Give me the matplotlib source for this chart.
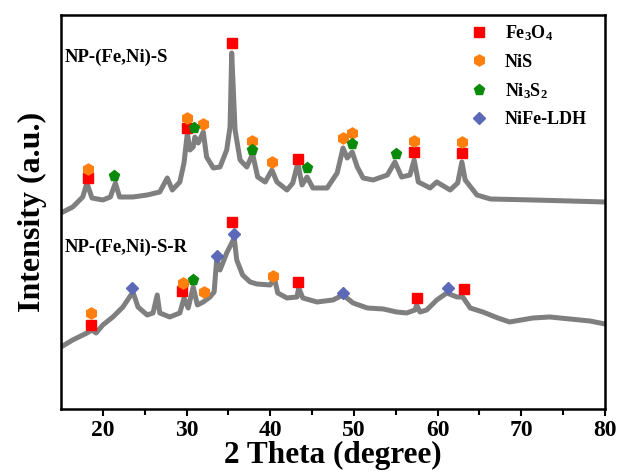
import matplotlib
matplotlib.use("Agg")
import matplotlib.pyplot as plt

plt.rcParams['font.family'] = 'Liberation Serif'
plt.rcParams['font.weight'] = 'bold'
plt.rcParams['mathtext.fontset'] = 'custom'
plt.rcParams['mathtext.rm'] = 'Liberation Serif:bold'
plt.rcParams['mathtext.it'] = 'Liberation Serif:bold'
plt.rcParams['mathtext.bf'] = 'Liberation Serif:bold'

# NP-(Fe,Ni)-S pattern (2 theta, intensity a.u.)
theta_s = [15.0, 16.4, 17.6, 18.1, 18.7, 20.0, 20.9, 21.5, 22.0, 23.6, 25.3, 26.8, 27.7, 28.3,
           29.2, 29.7, 30.1, 30.4, 30.8, 31.0, 31.4, 32.0, 32.4, 33.2, 34.0, 34.8, 35.2, 35.4,
           35.8, 36.4, 37.2, 37.9, 38.5, 39.4, 40.2, 40.8, 42.0, 42.7, 43.3, 43.8, 44.4, 45.1,
           46.8, 48.0, 48.7, 49.2, 49.8, 50.4, 51.1, 52.3, 54.0, 54.9, 55.7, 56.7, 57.2, 57.7,
           59.1, 59.9, 61.5, 62.4, 62.9, 63.3, 64.7, 66.3, 71.4, 75.8, 80.0]
int_s = [196, 202, 212, 226, 211, 209, 212, 226, 212, 212, 214, 217, 231, 219,
         227, 246, 276, 259, 262, 272, 266, 277, 252, 241, 242, 259, 282, 356,
         279, 249, 242, 255, 232, 227, 239, 227, 219, 226, 246, 224, 232, 221,
         221, 236, 261, 251, 257, 242, 231, 229, 234, 247, 232, 234, 249, 227,
         221, 227, 219, 226, 247, 229, 214, 210, 209, 208, 207]

# NP-(Fe,Ni)-S-R pattern
theta_r = [15.0, 16.4, 18.1, 18.7, 19.2, 20.0, 21.2, 22.4, 23.6, 24.2, 25.3, 26.0, 26.5, 26.8,
           28.0, 29.2, 29.7, 30.2, 30.8, 31.3, 32.0, 32.8, 33.3, 33.6, 34.0, 34.8, 35.4, 35.7,
           36.0, 36.7, 37.6, 38.4, 40.0, 40.5, 40.9, 42.0, 43.2, 43.4, 43.9, 45.6, 47.5, 48.7,
           49.9, 51.6, 53.5, 55.1, 56.3, 57.3, 57.5, 57.9, 58.7, 59.9, 61.1, 62.3, 63.0, 63.9,
           65.4, 67.2, 68.6, 71.4, 73.4, 75.8, 78.2, 80.0]
int_r = [62, 69, 76, 79, 76, 84, 92, 102, 117, 102, 94, 96, 114, 96,
         92, 96, 111, 101, 122, 104, 107, 112, 117, 149, 139, 156, 166, 171,
         149, 134, 127, 125, 124, 131, 116, 111, 112, 121, 111, 107, 109, 114,
         106, 101, 100, 97, 96, 99, 104, 97, 99, 109, 116, 112, 112, 101,
         97, 91, 87, 91, 92, 90, 88, 85]

# phase markers, top pattern
fe3o4_s_x = [18.2, 30.1, 35.4, 43.3, 57.2, 62.9]
fe3o4_s_y = [231, 281, 366, 250, 257, 256]
nis_s_x = [18.2, 30.1, 32.0, 37.8, 40.2, 48.7, 49.8, 57.2, 62.9]
nis_s_y = [240, 291, 285, 268, 247, 271, 276, 268, 267]
ni3s2_s_x = [21.3, 30.9, 37.8, 44.4, 49.8, 55.0]
ni3s2_s_y = [233, 281, 259, 241, 265, 255]

# phase markers, bottom pattern
fe3o4_r_x = [18.6, 29.5, 35.4, 43.3, 57.5, 63.2]
fe3o4_r_y = [84, 118, 187, 127, 111, 120]
nis_r_x = [18.6, 29.6, 32.1, 40.3]
nis_r_y = [96, 126, 117, 133]
ni3s2_r_x = [30.8]
ni3s2_r_y = [129]
ldh_r_x = [23.5, 33.6, 35.7, 48.7, 61.2]
ldh_r_y = [121, 153, 175, 116, 121]

c_fe = '#ff0000'
c_nis = '#ff7f0e'
c_ni3 = '#0a8a0a'
c_ldh = '#5b69b8'
ms = 7

fig = plt.figure(figsize=(6.21, 4.76), dpi=100)
ax = fig.add_axes([0.0982, 0.1408, 0.876, 0.8277])

ax.plot(theta_s, int_s, color='#7f7f7f', lw=3.6, solid_joinstyle='round')
ax.plot(theta_r, int_r, color='#7f7f7f', lw=3.6, solid_joinstyle='round')

ax.plot(fe3o4_s_x + fe3o4_r_x, fe3o4_s_y + fe3o4_r_y, 's', color=c_fe, ms=ms, ls='none', label='Fe$_3$O$_4$')
ax.plot(nis_s_x + nis_r_x, nis_s_y + nis_r_y, 'h', color=c_nis, ms=ms + 1, ls='none', label='NiS')
ax.plot(ni3s2_s_x + ni3s2_r_x, ni3s2_s_y + ni3s2_r_y, 'p', color=c_ni3, ms=ms + 1, ls='none', label='Ni$_3$S$_2$')
ax.plot(ldh_r_x, ldh_r_y, 'D', color=c_ldh, ms=ms - 1, ls='none', label='NiFe-LDH')

ax.text(0.007, 0.893, 'NP-(Fe,Ni)-S', transform=ax.transAxes, fontsize=13.5,
        fontweight='bold', va='center')
ax.text(0.007, 0.409, 'NP-(Fe,Ni)-S-R', transform=ax.transAxes, fontsize=13.5,
        fontweight='bold', va='center')

ax.legend(loc='upper left', bbox_to_anchor=(0.748, 0.978), frameon=False, fontsize=13,
          handletextpad=0.85, labelspacing=0.57, handlelength=1.2, borderaxespad=0,
          borderpad=0)

ax.set_xlim(15, 80)
ax.set_ylim(0, 394)
ax.set_xticks([20, 30, 40, 50, 60, 70, 80])
ax.set_xticks([25, 35, 45, 55, 65, 75], minor=True)
ax.set_yticks([])
ax.tick_params(axis='x', which='major', length=5, width=1.5, labelsize=17, direction='out', pad=3)
ax.tick_params(axis='x', which='minor', length=4, width=1.5, direction='out')
for s in ax.spines.values():
    s.set_linewidth(1.8)

ax.set_xlabel('2 Theta (degree)', fontsize=22.5, fontweight='bold', labelpad=0)
ax.set_ylabel('Intensity (a.u.)', fontsize=23, fontweight='bold', labelpad=10)

fig.savefig('out.png', dpi=100)
